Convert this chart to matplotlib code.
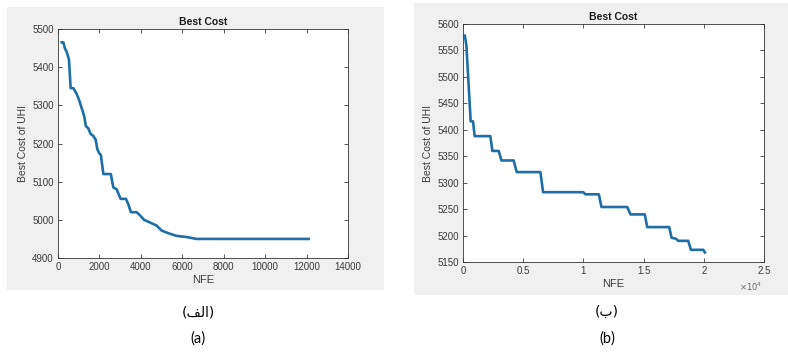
import matplotlib
matplotlib.use('Agg')
import matplotlib.pyplot as plt
from matplotlib.patches import Rectangle
from matplotlib.ticker import FuncFormatter

plt.rcParams['font.family'] = ['Liberation Sans', 'DejaVu Sans']

# Run (a): best cost per number of function evaluations
nfe_a = [180, 260, 330, 420, 530, 610, 740, 900, 1010, 1100, 1190, 1270, 1350, 1460,
         1575, 1700, 1820, 1900, 1980, 2070, 2190, 2550, 2670, 2830, 3020, 3280, 3400,
         3520, 3800, 3990, 4150, 4440, 4760, 5000, 5320, 5720, 6200, 6690, 12100]
cost_a = [5465, 5465, 5450, 5440, 5420, 5345, 5345, 5330, 5315, 5300, 5285, 5270, 5245, 5240,
          5225, 5220, 5210, 5185, 5175, 5170, 5120, 5120, 5085, 5080, 5055, 5055, 5040,
          5020, 5020, 5010, 5000, 4993, 4985, 4972, 4965, 4958, 4955, 4950, 4950]

# Run (b)
nfe_b = [150, 280, 637, 830, 970, 2270, 2440, 2965, 3190, 4210, 4460, 6430, 6650, 9980,
         10170, 11280, 11500, 13640, 13910, 15100, 15300, 17130, 17320, 17680, 17880,
         18710, 18930, 19960, 20090]
cost_b = [5578, 5560, 5416, 5416, 5388, 5388, 5360, 5360, 5342, 5342, 5320, 5320, 5282, 5282,
          5278, 5278, 5254, 5254, 5240, 5240, 5216, 5216, 5196, 5194, 5190,
          5190, 5173, 5173, 5168]

captions_fa = ['(\ufed2\ufedf\u0627)', '(\ufe8f)']
captions_en = ['(a)', '(b)']

W, H = 788, 354
fig = plt.figure(figsize=(W / 100, H / 100), dpi=100)
fig.patch.set_facecolor('white')


def box(x0, y0, x1, y1):
    # pixel box (top-left origin) -> figure coords
    return [x0 / W, 1 - y1 / H, (x1 - x0) / W, (y1 - y0) / H]


for b in (box(7, 7, 384, 290), box(414, 3, 788, 295)):
    fig.patches.append(Rectangle((b[0], b[1]), b[2], b[3], transform=fig.transFigure,
                                 facecolor='#f0f0f0', edgecolor='none', zorder=-10))

ax_a = fig.add_axes(box(58, 29, 348, 258))
ax_b = fig.add_axes(box(463, 24, 764, 262))

line_color = '#1f6ea6'
grey = '#3a3a3a'

for ax, x, y in ((ax_a, nfe_a, cost_a), (ax_b, nfe_b, cost_b)):
    ax.set_facecolor('white')
    ax.plot(x, y, color=line_color, lw=1.9)
    ax.set_title('Best Cost', fontsize=7.5, fontweight='bold', color='#1a1a1a', pad=3)
    ax.set_xlabel('NFE', fontsize=8, color=grey, labelpad=2)
    ax.set_ylabel('Best Cost of UHI', fontsize=7.5, color=grey, labelpad=3)
    ax.tick_params(direction='in', length=3, width=0.6, labelsize=7, colors=grey,
                   top=True, right=True, pad=3)
    for s in ax.spines.values():
        s.set_color('#333333')
        s.set_linewidth(0.6)

ax_a.set_xlim(0, 14000)
ax_a.set_ylim(4900, 5500)
ax_a.set_xticks(range(0, 14001, 2000))
ax_a.set_yticks(range(4900, 5501, 100))

ax_b.set_xlim(0, 25000)
ax_b.set_ylim(5150, 5600)
ax_b.set_xticks(range(0, 25001, 5000))
ax_b.set_yticks(range(5150, 5601, 50))
ax_b.xaxis.set_major_formatter(FuncFormatter(lambda v, p: '%g' % (v / 1e4)))
ax_b.text(0.995, -0.105, r'$\times10^4$', transform=ax_b.transAxes, ha='right', va='center',
          fontsize=6, color='#666666')

# captions under each panel
for cx, fa, en in ((198, captions_fa[0], captions_en[0]), (607, captions_fa[1], captions_en[1])):
    fig.text(cx / W, 1 - 312 / H, fa, ha='center', va='center', fontsize=10,
             family=['DejaVu Sans'])
    fig.text(cx / W, 1 - 339 / H, en, ha='center', va='center', fontsize=10.5,
             family=['Lato', 'DejaVu Sans'])

fig.savefig('out.png', dpi=100, facecolor='white')
